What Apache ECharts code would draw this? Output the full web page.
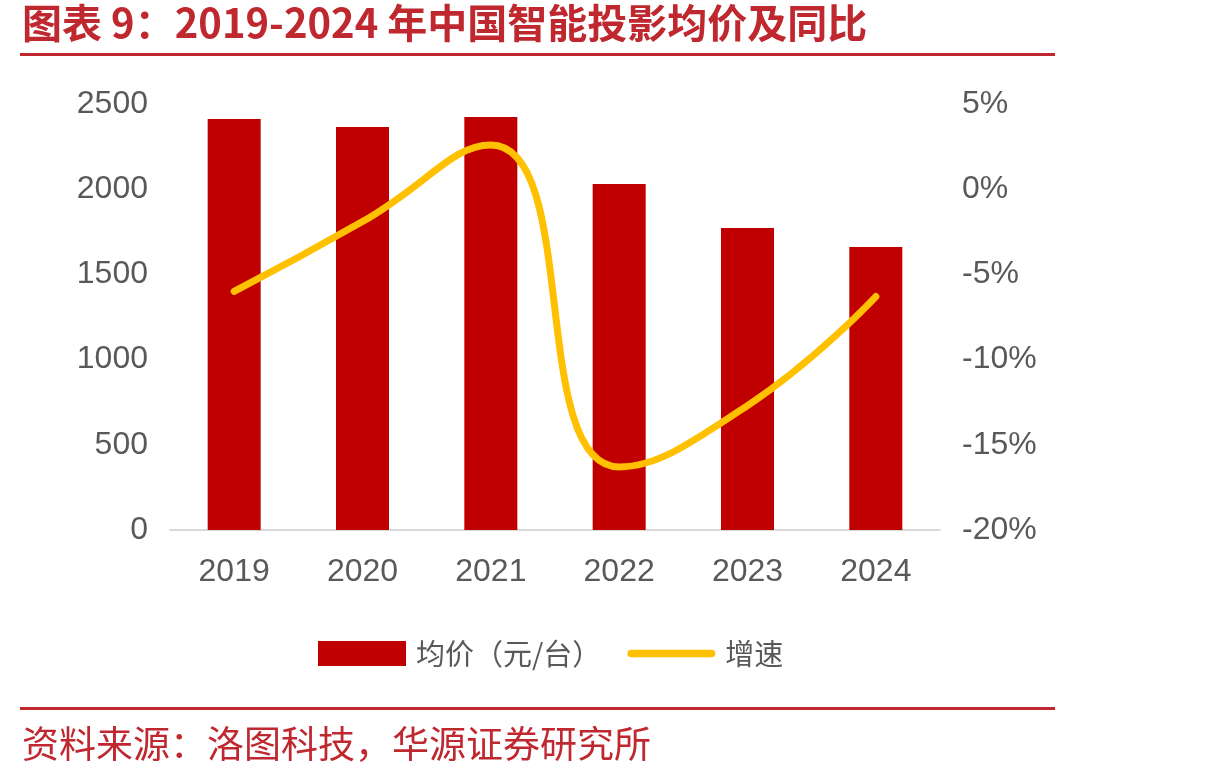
<!DOCTYPE html>
<html>
<head>
  <meta charset="utf-8">
  <script src="https://cdn.jsdelivr.net/npm/echarts@6/dist/echarts.min.js"></script>
  <style>
    html, body { margin: 0; padding: 0; background: #fff; }
  </style>
</head>
<body>
<div id="main" style="width: 1210px; height: 780px"></div>
<script>
  const years = ['2019', '2020', '2021', '2022', '2023', '2024'];
  const avgPrice = [2412, 2365, 2424, 2030, 1772, 1661];
  const growth = [-6.0, -1.9, 2.6, -16.3, -12.7, -6.3];
  const leftTicks = { min: 0, max: 2500, interval: 500 };
  const rightTicks = { min: -20, max: 5, interval: 5 };

  const cjk = '"Noto Sans CJK SC", sans-serif';
  const latin = '"Liberation Sans", Arial, sans-serif';
  const red = '#C00000';
  const gold = '#FFC000';
  const grey = '#595959';

  const myChart = echarts.init(document.getElementById('main'));
  myChart.setOption({
    animation: false,
    backgroundColor: '#fff',
    graphic: [
      {
        type: 'text', left: 22, top: 3,
        style: {
          text: '图表 9：2019-2024 年中国智能投影均价及同比',
          fill: '#C0282F', font: 'bold 40px ' + cjk
        }
      },
      {
        type: 'rect', shape: { x: 20, y: 53, width: 1035, height: 3 },
        style: { fill: '#C0282F' }
      },
      {
        type: 'rect', shape: { x: 20, y: 707, width: 1035, height: 3 },
        style: { fill: '#C0282F' }
      },
      {
        type: 'text', left: 22, top: 725,
        style: {
          text: '资料来源：洛图科技，华源证券研究所',
          fill: '#C0282F', font: '37px ' + cjk
        }
      }
    ],
    grid: { left: 170, right: 270, top: 104, bottom: 250 },
    legend: {
      left: 313, top: 634,
      itemWidth: 88, itemHeight: 25, itemGap: 26,
      textStyle: { color: grey, fontSize: 29, fontFamily: cjk, padding: [0, 0, 0, 5] },
      data: [
        { name: '均价（元/台）', icon: 'rect' },
        { name: '增速', icon: 'path://M4,0 H88 A4,4 0 0 1 88,8 H4 A4,4 0 0 1 4,0 Z' }
      ]
    },
    xAxis: {
      type: 'category',
      data: years,
      axisLine: { lineStyle: { color: '#D9D9D9', width: 2 } },
      axisTick: { show: false },
      axisLabel: { color: grey, fontSize: 32, fontFamily: latin, margin: 26 }
    },
    yAxis: [
      {
        type: 'value',
        min: leftTicks.min, max: leftTicks.max, interval: leftTicks.interval,
        splitLine: { show: false },
        axisLine: { show: false },
        axisTick: { show: false },
        axisLabel: { color: grey, fontSize: 32, fontFamily: latin, margin: 22, formatter: v => String(v) }
      },
      {
        type: 'value',
        min: rightTicks.min, max: rightTicks.max, interval: rightTicks.interval,
        splitLine: { show: false },
        axisLine: { show: false },
        axisTick: { show: false },
        axisLabel: { color: grey, fontSize: 32, fontFamily: latin, margin: 22, formatter: '{value}%' }
      }
    ],
    series: [
      {
        name: '均价（元/台）',
        type: 'bar',
        data: avgPrice,
        barWidth: 53,
        itemStyle: { color: red }
      },
      {
        name: '增速',
        type: 'line',
        yAxisIndex: 1,
        data: growth,
        smooth: 0.5,
        showSymbol: false,
        symbol: 'none',
        lineStyle: { color: gold, width: 7, cap: 'round' },
        itemStyle: { color: gold }
      }
    ]
  });
</script>
</body>
</html>
